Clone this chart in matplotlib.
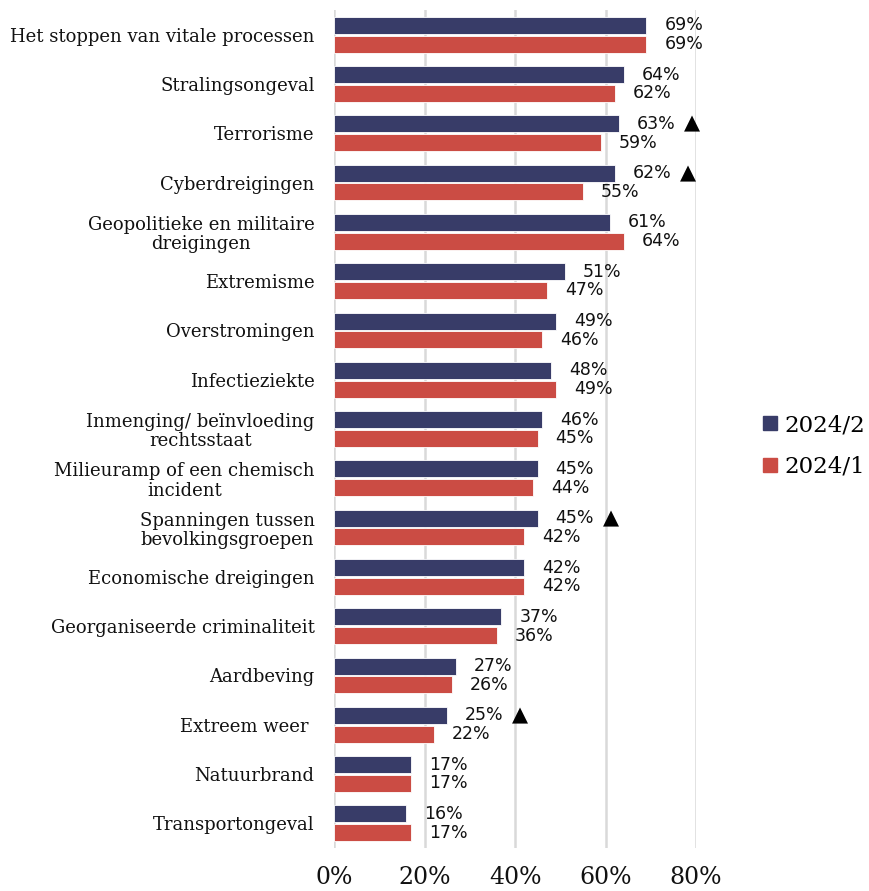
import matplotlib.pyplot as plt
from matplotlib.lines import Line2D

#%% --- Data ---

categories = ["Het stoppen van vitale processen",
              "Stralingsongeval",
              "Terrorisme",
              "Cyberdreigingen",
              "Geopolitieke en militaire\ndreigingen",
              "Extremisme",
              "Overstromingen",
              "Infectieziekte",
              "Inmenging/ beïnvloeding\nrechtsstaat",
              "Milieuramp of een chemisch\nincident",
              "Spanningen tussen\nbevolkingsgroepen",
              "Economische dreigingen",
              "Georganiseerde criminaliteit",
              "Aardbeving",
              "Extreem weer ",
              "Natuurbrand",
              "Transportongeval"]

wave_2024_2 = [69, 64, 63, 62, 61, 51, 49, 48, 46, 45, 45, 42, 37, 27, 25, 17, 16]
wave_2024_1 = [69, 62, 59, 55, 64, 47, 46, 49, 45, 44, 42, 42, 36, 26, 22, 17, 17]

# categories with a significant increase marker
increase_flags = [False, False, True, True, False, False, False, False, False,
                  False, True, False, False, False, True, False, False]

x_ticks = [0, 20, 40, 60, 80]

#%% --- Style ---

blue = "#383C68"
red = "#CB4C44"
grid_color = "#D9D9D9"
serif = "DejaVu Serif"
sans = "DejaVu Sans"

#%% --- Figure ---

fig = plt.figure(figsize=(8.70, 8.91), dpi=100)
ax = fig.add_axes([334 / 870, 1 - 848 / 891, (696 - 334) / 870, (848 - 10) / 891])

positions = list(range(len(categories)))
bar_h = 0.345
offset = 0.19

ax.barh([p - offset for p in positions], wave_2024_2, height=bar_h,
        color=blue, edgecolor="white", linewidth=0.6, zorder=3)
ax.barh([p + offset for p in positions], wave_2024_1, height=bar_h,
        color=red, edgecolor="white", linewidth=0.6, zorder=3)

# --- Data labels ---
for p, v2, v1, flag in zip(positions, wave_2024_2, wave_2024_1, increase_flags):
    t2 = ax.annotate("{}%".format(v2), xy=(v2, p - offset), xytext=(13, 0),
                     textcoords="offset points", va="center", ha="left",
                     fontfamily=sans, fontsize=12.5, color="#111111")
    ax.annotate("{}%".format(v1), xy=(v1, p + offset), xytext=(13, 0),
                textcoords="offset points", va="center", ha="left",
                fontfamily=sans, fontsize=12.5, color="#111111")
    if flag:
        ax.annotate("▲", xy=(1, 0.5), xycoords=t2, xytext=(6, 0),
                    textcoords="offset points", va="center", ha="left",
                    fontfamily=sans, fontsize=15, color="black")

# --- Axes ---
ax.set_xlim(0, 80)
ax.set_ylim(len(categories) - 0.5, -0.5)
ax.set_yticks(positions)
ax.set_yticklabels(categories, fontfamily=serif, fontsize=13,
                   multialignment="center", color="#111111",
                   linespacing=1.1)
ax.set_xticks(x_ticks)
ax.set_xticklabels(["{}%".format(t) for t in x_ticks], fontfamily=serif,
                   fontsize=17, color="#111111")
ax.tick_params(axis="y", length=0, pad=14)
ax.tick_params(axis="x", length=0, pad=13)
for spine in ax.spines.values():
    spine.set_visible(False)
ax.xaxis.grid(True, color=grid_color, linewidth=1.8, zorder=0)
ax.set_axisbelow(True)

# --- Legend ---
handles = [Line2D([], [], marker="s", linestyle="", markersize=10, color=blue),
           Line2D([], [], marker="s", linestyle="", markersize=10, color=red)]
fig.legend(handles, ["2024/2", "2024/1"], loc="center left",
           bbox_to_anchor=(762 / 870, 1 - 446 / 891), frameon=False,
           prop={"family": serif, "size": 16.5}, handlelength=0.7,
           handletextpad=0.3, labelspacing=0.85, borderpad=0,
           borderaxespad=0)

fig.savefig("out.png", dpi=100)
